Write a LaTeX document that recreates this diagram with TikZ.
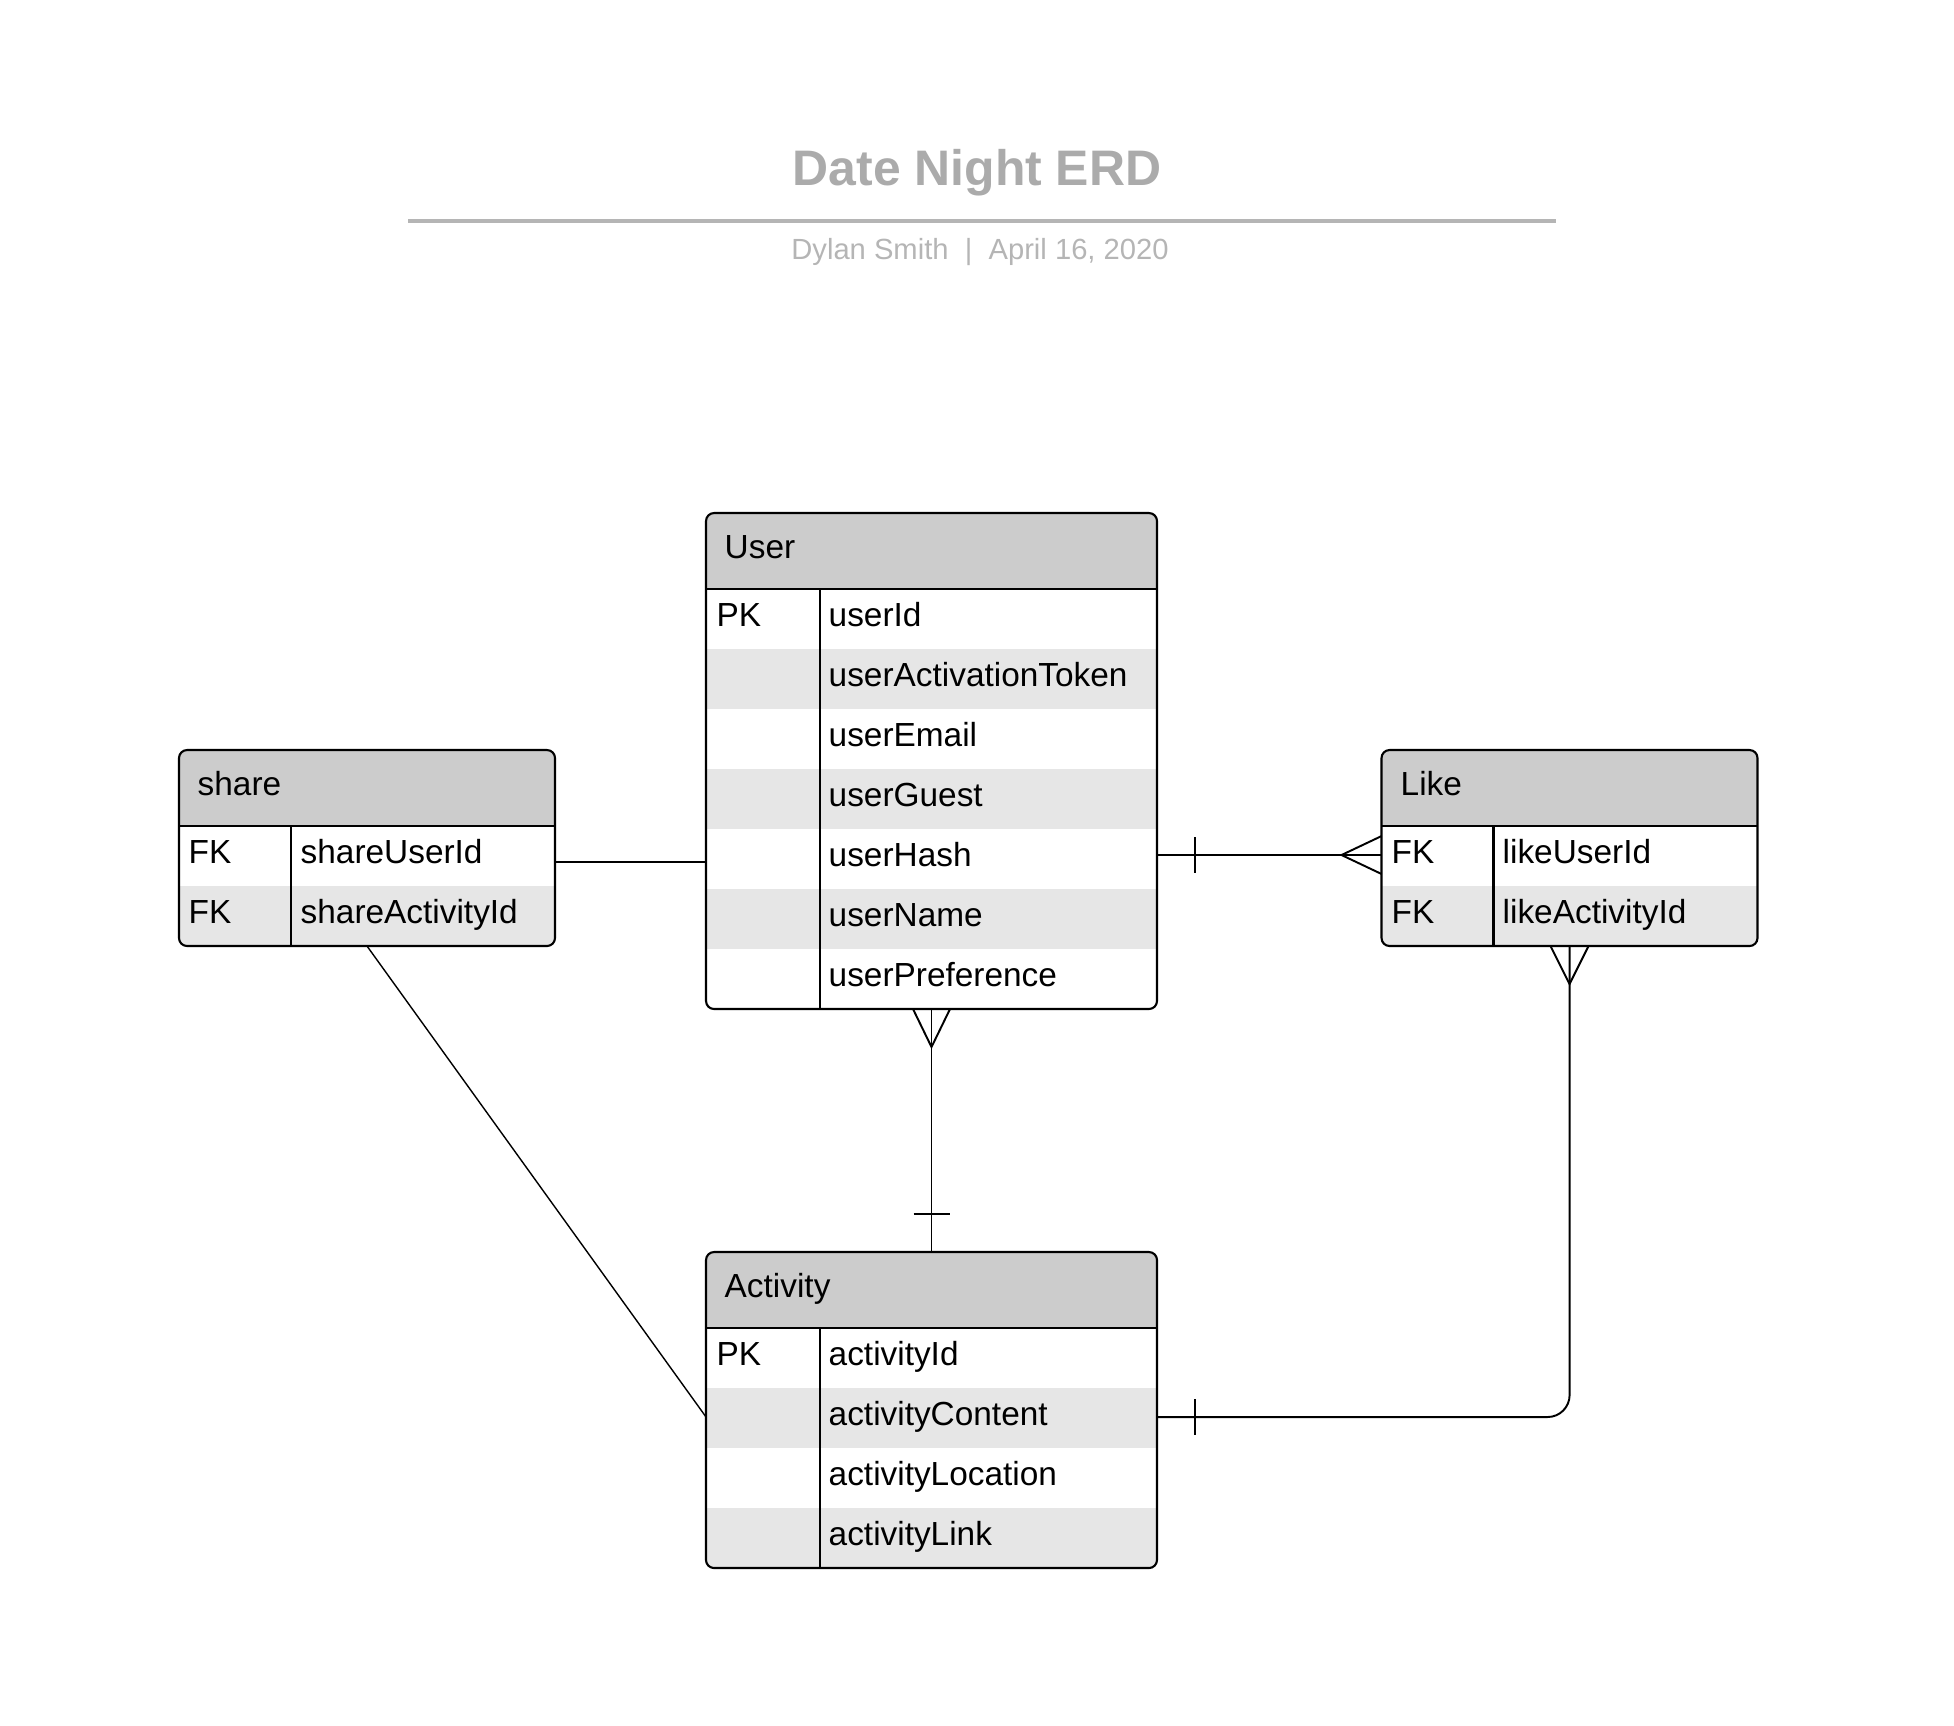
\documentclass[tikz,border=0pt]{standalone}
\usepackage{fontspec}
\setmainfont{Liberation Sans}
\usepackage{tikz}

\definecolor{headgray}{HTML}{CCCCCC}
\definecolor{rowgray}{HTML}{E6E6E6}
\definecolor{titlegray}{HTML}{ABABAB}
\definecolor{subgray}{HTML}{B5B5B5}

\begin{document}
\begin{tikzpicture}[scale=0.1,
  entity/.style={draw=black, line width=0.6pt, rounded corners=0.8mm, inner sep=0pt, outer sep=0pt},
  attr/.style={anchor=base west, font=\fontsize{9.5}{11}\selectfont},
  rel/.style={black, line width=0.55pt},
  thinrel/.style={black, line width=0.4pt}]
\tikzstyle{every node}+=[inner sep=0pt]
\useasboundingbox (0,0) rectangle (195.4,-172.5);
% title block
\node [font=\fontsize{14.2}{17}\selectfont\bfseries, text=titlegray] (title) at (97.7,-17.3) {Date Night ERD};
\draw [subgray, line width=0.9pt] (40.8,-22.1) -- (155.6,-22.1);
\node [font=\fontsize{8.3}{10}\selectfont, text=subgray] (byline) at (98.0,-25.2) {Dylan Smith~~|~~April 16, 2020};
% User
\begin{scope}
\clip [rounded corners=0.8mm] (70.6,-51.3) rectangle (115.7,-100.9);
\fill [headgray] (70.6,-51.3) rectangle (115.7,-58.9);
\fill [rowgray] (70.6,-64.9) rectangle (115.7,-70.9);
\fill [rowgray] (70.6,-76.9) rectangle (115.7,-82.9);
\fill [rowgray] (70.6,-88.9) rectangle (115.7,-94.9);
\end{scope}
\node [entity, minimum width=4.51cm, minimum height=4.96cm] (user) at (93.15,-76.1) {};
\draw [line width=0.6pt] (70.6,-58.9) -- (115.7,-58.9);
\draw [line width=0.6pt] (82.0,-58.9) -- (82.0,-100.9);
\node [attr] (usertitle) at (72.4,-55.8) {User};
\node [attr] (userpk) at (71.6,-62.6) {PK};
\node [attr] (userid) at (82.8,-62.6) {userId};
\node [attr] (usertoken) at (82.8,-68.6) {userActivationToken};
\node [attr] (useremail) at (82.8,-74.6) {userEmail};
\node [attr] (userguest) at (82.8,-80.6) {userGuest};
\node [attr] (userhash) at (82.8,-86.6) {userHash};
\node [attr] (username) at (82.8,-92.6) {userName};
\node [attr] (userpref) at (82.8,-98.6) {userPreference};
% Activity
\begin{scope}
\clip [rounded corners=0.8mm] (70.6,-125.2) rectangle (115.7,-156.8);
\fill [headgray] (70.6,-125.2) rectangle (115.7,-132.8);
\fill [rowgray] (70.6,-138.8) rectangle (115.7,-144.8);
\fill [rowgray] (70.6,-150.8) rectangle (115.7,-156.8);
\end{scope}
\node [entity, minimum width=4.51cm, minimum height=3.16cm] (activity) at (93.15,-141.0) {};
\draw [line width=0.6pt] (70.6,-132.8) -- (115.7,-132.8);
\draw [line width=0.6pt] (82.0,-132.8) -- (82.0,-156.8);
\node [attr] (acttitle) at (72.4,-129.7) {Activity};
\node [attr] (actpk) at (71.6,-136.5) {PK};
\node [attr] (actid) at (82.8,-136.5) {activityId};
\node [attr] (actcontent) at (82.8,-142.5) {activityContent};
\node [attr] (actlocation) at (82.8,-148.5) {activityLocation};
\node [attr] (actlink) at (82.8,-154.5) {activityLink};
% share
\begin{scope}
\clip [rounded corners=0.8mm] (17.9,-75.0) rectangle (55.5,-94.6);
\fill [headgray] (17.9,-75.0) rectangle (55.5,-82.6);
\fill [rowgray] (17.9,-88.6) rectangle (55.5,-94.6);
\end{scope}
\node [entity, minimum width=3.76cm, minimum height=1.96cm] (share) at (36.7,-84.8) {};
\draw [line width=0.6pt] (17.9,-82.6) -- (55.5,-82.6);
\draw [line width=0.6pt] (29.1,-82.6) -- (29.1,-94.6);
\node [attr] (sharetitle) at (19.7,-79.5) {share};
\node [attr] (sharefk1) at (18.8,-86.3) {FK};
\node [attr] (shareuser) at (30.0,-86.3) {shareUserId};
\node [attr] (sharefk2) at (18.8,-92.3) {FK};
\node [attr] (shareact) at (30.0,-92.3) {shareActivityId};
% Like
\begin{scope}
\clip [rounded corners=0.8mm] (138.15,-75.0) rectangle (175.75,-94.6);
\fill [headgray] (138.15,-75.0) rectangle (175.75,-82.6);
\fill [rowgray] (138.15,-88.6) rectangle (175.75,-94.6);
\end{scope}
\node [entity, minimum width=3.76cm, minimum height=1.96cm] (like) at (156.95,-84.8) {};
\draw [line width=0.6pt] (138.15,-82.6) -- (175.75,-82.6);
\draw [line width=0.6pt] (149.35,-82.6) -- (149.35,-94.6);
\node [attr] (liketitle) at (140.0,-79.5) {Like};
\node [attr] (likefk1) at (139.1,-86.3) {FK};
\node [attr] (likeuser) at (150.2,-86.3) {likeUserId};
\node [attr] (likefk2) at (139.1,-92.3) {FK};
\node [attr] (likeact) at (150.2,-92.3) {likeActivityId};
% share - User
\draw [thinrel] (share.east |- 0,-86.2) -- (user.west |- 0,-86.2);
% User - Like
\draw [rel] (user.east |- 0,-85.5) -- (like.west |- 0,-85.5);
\draw [rel] (119.5,-83.7) -- (119.5,-87.3);
\draw [rel] (like.west |- 0,-83.6) -- (134.15,-85.5) -- (like.west |- 0,-87.4);
% User - Activity
\draw [thinrel] (user.south) -- (activity.north);
\draw [rel] (91.3,-100.9) -- (93.15,-104.7) -- (95.0,-100.9);
\draw [thinrel] (91.35,-121.4) -- (94.95,-121.4);
% Like - Activity
\draw [rel, rounded corners=2.2mm] (like.south) -- (like.south |- 0,-141.7) -- (activity.east |- 0,-141.7);
\draw [rel] (155.05,-94.6) -- (156.95,-98.4) -- (158.85,-94.6);
\draw [rel] (119.5,-139.9) -- (119.5,-143.5);
% share - Activity
\draw [thinrel] (share.south) -- (activity.west |- 0,-141.7);
\end{tikzpicture}
\end{document}
